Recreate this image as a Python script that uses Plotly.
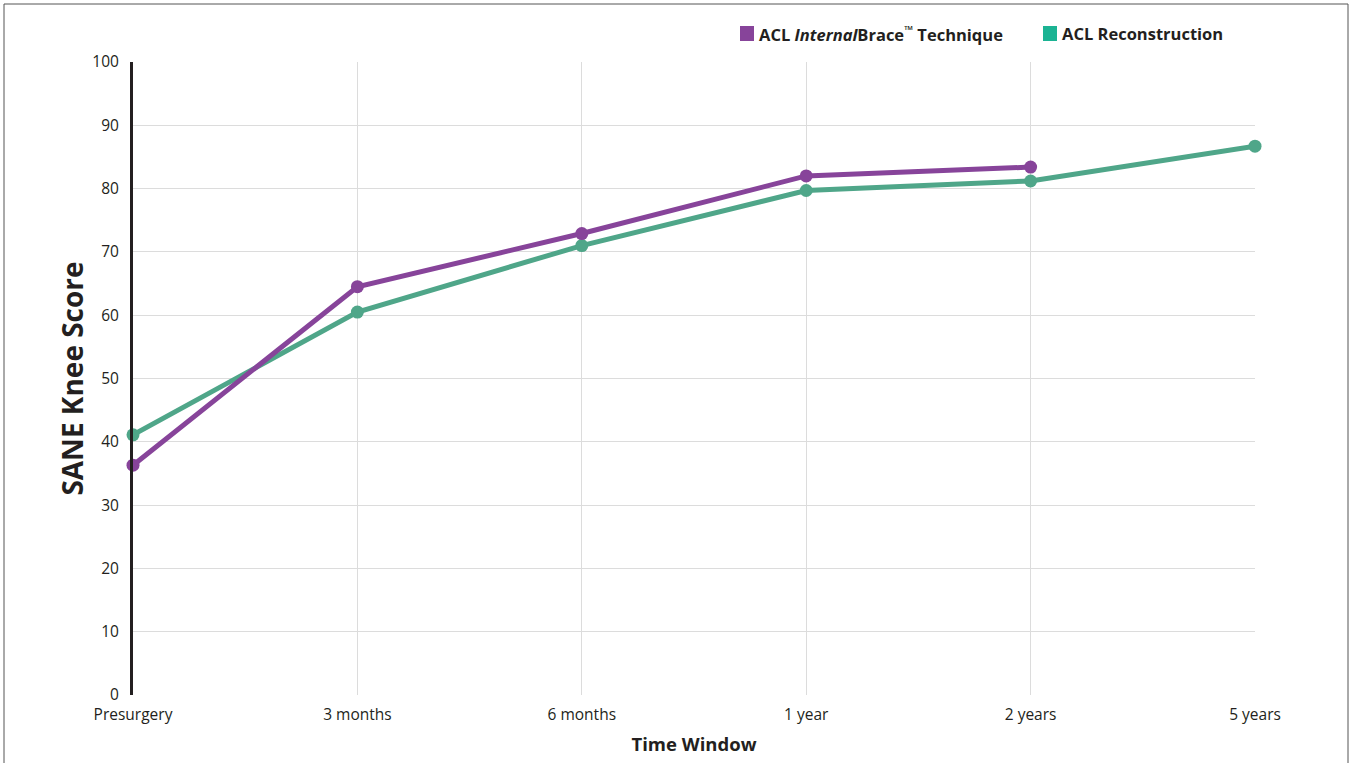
import plotly.graph_objects as go

#### data
time_window = ['Presurgery', '3 months', '6 months', '1 year', '2 years', '5 years']
internal_brace = [36.3, 64.5, 72.9, 82.0, 83.4]
reconstruction = [41.1, 60.5, 71.0, 79.7, 81.2, 86.7]

col_purple = '#87449A'
col_green = '#4FA689'
col_green_legend = '#1BB393'
font_family = 'Open Sans, Lato, sans-serif'

#### figure
fig = go.Figure()

fig.add_trace(go.Scatter(x=time_window[:len(reconstruction)], y=reconstruction, mode='lines+markers',
                         line=dict(color=col_green, width=5), marker=dict(color=col_green, size=13),
                         showlegend=False, cliponaxis=False))
fig.add_trace(go.Scatter(x=time_window[:len(internal_brace)], y=internal_brace, mode='lines+markers',
                         line=dict(color=col_purple, width=5), marker=dict(color=col_purple, size=13),
                         showlegend=False, cliponaxis=False))

fig.update_layout(
    width=1351, height=763,
    margin=dict(l=133, r=96, t=62, b=68),
    paper_bgcolor='white', plot_bgcolor='white',
    font=dict(family=font_family, color='#231F20', size=15),
)

fig.update_xaxes(type='category', range=[0, 5], showgrid=True, gridcolor='#DCDCDC', gridwidth=1,
                 zeroline=False, showline=False, ticks='', tickfont=dict(size=15.5), ticklabelstandoff=8,
                 title=dict(text='<b>Time Window</b>', font=dict(size=18.5), standoff=14))
fig.update_yaxes(range=[0, 100], dtick=10, showgrid=True, gridcolor='#DCDCDC', gridwidth=1,
                 zeroline=False, showline=True, linecolor='#231F20', linewidth=3, ticks='',
                 tickfont=dict(size=15.5), ticklabelstandoff=8,
                 title=dict(text='<b>SANE Knee Score</b>', font=dict(size=28), standoff=1))

#### custom legend
legend_items = [('ACL <i>Internal</i>Brace<sup>™</sup> Technique', col_purple, 740),
                ('ACL Reconstruction', col_green_legend, 1043)]
for label, color, x0 in legend_items:
    fig.add_shape(type='rect', xref='paper', yref='paper',
                  x0=(x0 - 133) / 1122, x1=(x0 + 14 - 133) / 1122,
                  y0=(763 - 68 - 41) / 633, y1=(763 - 68 - 26) / 633,
                  fillcolor=color, line=dict(width=0))
    fig.add_annotation(text=f'<b>{label}</b>', xref='paper', yref='paper',
                       x=(x0 + 17 - 133) / 1122, y=(763 - 68 - 33.5) / 633,
                       xanchor='left', yanchor='middle', showarrow=False,
                       font=dict(size=16.5, color='#231F20'))

#### frame
fig.add_shape(type='rect', xref='paper', yref='paper',
              x0=(4 - 133) / 1122, x1=(1348 - 133) / 1122,
              y0=(763 - 68 - 770) / 633, y1=(763 - 68 - 4) / 633,
              line=dict(color='#555555', width=1), fillcolor='rgba(0,0,0,0)')

fig.write_html('out.html', config=dict(displayModeBar=False),
               post_script="document.body.style.margin='0';")
